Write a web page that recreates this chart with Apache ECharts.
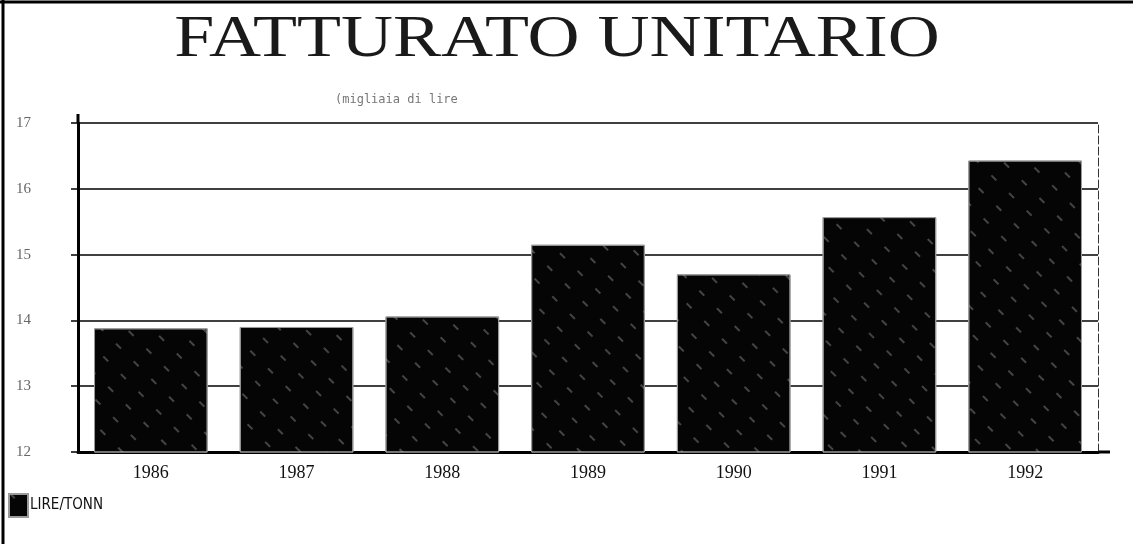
<!DOCTYPE html>
<html>
<head>
<meta charset="utf-8">
<script src="https://cdn.jsdelivr.net/npm/echarts@6/dist/echarts.min.js"></script>
<style>
  html, body { margin: 0; padding: 0; background: #fff; }
  #chart { width: 1133px; height: 544px; }
</style>
</head>
<body>
<div id="chart"></div>
<script>
// Unit turnover per year, thousands of lire per tonne
const years = ['1986', '1987', '1988', '1989', '1990', '1991', '1992'];
const lireTonn = [13.88, 13.9, 14.06, 15.15, 14.7, 15.57, 16.43];
const yTicks = [12, 13, 14, 15, 16, 17];

const chartTitle = 'FATTURATO UNITARIO';
const chartSubtitle = '(migliaia di lire';

const chart = echarts.init(document.getElementById('chart'), null, { renderer: 'canvas' });

// sparse white diagonal dashes over the black bar fill
const hatch = {
  symbol: 'rect',
  symbolSize: 1,
  color: 'rgba(255,255,255,0.25)',
  backgroundColor: null,
  dashArrayX: [[2, 16]],
  dashArrayY: [7, 18],
  rotation: -Math.PI / 4
};

chart.setOption({
  backgroundColor: '#fff',
  animation: false,
  title: {
    text: chartSubtitle,
    left: 330,
    top: 89,
    textStyle: {
      fontFamily: 'DejaVu Sans Mono',
      fontWeight: 'normal',
      fontSize: 12,
      color: '#777'
    }
  },
  legend: {
    left: 3,
    top: 488,
    orient: 'vertical',
    itemWidth: 19,
    itemHeight: 23,
    itemGap: 0,
    icon: 'rect',
    textStyle: {
      fontFamily: 'DejaVu Sans Condensed',
      fontSize: 15,
      color: '#111',
      padding: [0, 0, 0, -3]
    },
    data: ['LIRE/TONN']
  },
  grid: { left: 78, right: 35, top: 123, bottom: 92 },
  xAxis: {
    type: 'category',
    data: years,
    axisLine: { show: true, lineStyle: { color: '#000', width: 3 } },
    axisTick: { show: false },
    axisLabel: {
      margin: 12,
      fontFamily: 'Liberation Serif',
      fontSize: 18,
      color: '#111'
    }
  },
  yAxis: [
    {
      type: 'value',
      min: yTicks[0],
      max: yTicks[yTicks.length - 1],
      interval: 1,
      axisLine: { show: true, lineStyle: { color: '#000', width: 3 } },
      axisTick: { show: true, length: 7, lineStyle: { color: '#000', width: 1.5 } },
      axisLabel: {
        margin: 62,
        align: 'left',
        fontFamily: 'Liberation Serif',
        fontSize: 15,
        color: '#666'
      },
      splitLine: { show: true, lineStyle: { color: '#000', width: 1.5 } }
    },
    {
      type: 'value',
      position: 'right',
      min: yTicks[0],
      max: yTicks[yTicks.length - 1],
      interval: 1,
      axisLine: { show: true, lineStyle: { color: '#333', width: 1, type: [8, 3] } },
      axisTick: { show: false },
      axisLabel: { show: false },
      splitLine: { show: false }
    }
  ],
  series: [
    {
      name: 'LIRE/TONN',
      type: 'bar',
      data: lireTonn,
      barWidth: '78%',
      itemStyle: {
        color: '#050505',
        borderColor: '#9a9a9a',
        borderWidth: 1,
        decal: hatch
      }
    }
  ],
  graphic: [
    {
      type: 'text',
      x: 557,
      y: 40,
      scaleX: 1.2,
      style: {
        text: chartTitle,
        font: 'normal 60px "Liberation Serif"',
        fill: '#1a1a1a',
        textAlign: 'center',
        textVerticalAlign: 'middle'
      }
    },
    { type: 'line', shape: { x1: 0, y1: 2, x2: 1133, y2: 2 }, style: { stroke: '#000', lineWidth: 3 } },
    { type: 'line', shape: { x1: 3, y1: 0, x2: 3, y2: 544 }, style: { stroke: '#000', lineWidth: 3 } },
    { type: 'line', shape: { x1: 78, y1: 114, x2: 78, y2: 123 }, style: { stroke: '#000', lineWidth: 3 } },
    { type: 'line', shape: { x1: 1098, y1: 452, x2: 1110, y2: 452 }, style: { stroke: '#000', lineWidth: 3 } }
  ]
});
</script>
</body>
</html>
